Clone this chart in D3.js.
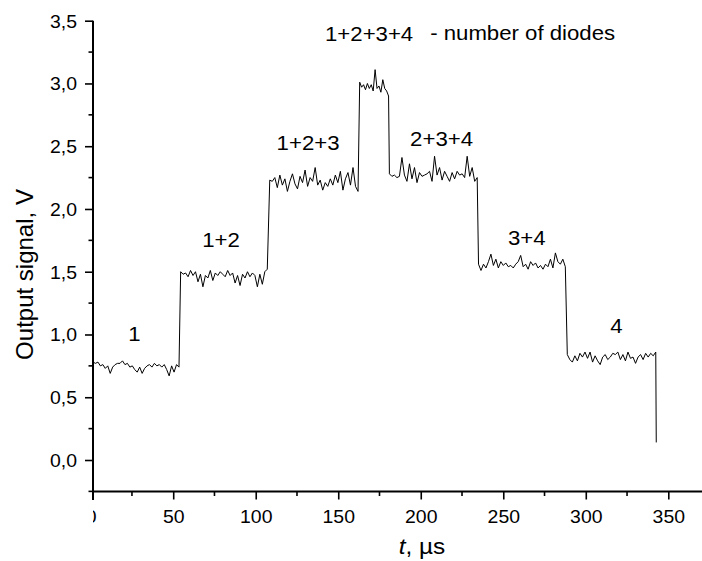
<!DOCTYPE html>
<html>
<head>
<meta charset="utf-8">
<script src="https://cdn.jsdelivr.net/npm/d3@7"></script>
<style>
  html, body { margin: 0; padding: 0; background: #fff; }
  svg { display: block; }
  text { font-family: "Liberation Sans", Arial, sans-serif; fill: #000; }
</style>
</head>
<body>
<svg id="chart" width="702" height="561"></svg>
<script>
// ---------------- DATA ----------------
const xTicks = [0, 50, 100, 150, 200, 250, 300, 350];
const xMinorTicks = [25, 75, 125, 175, 225, 275, 325];
const yTicks = [0, 0.5, 1.0, 1.5, 2.0, 2.5, 3.0, 3.5];
const yMinorTicks = [-0.25, 0.25, 0.75, 1.25, 1.75, 2.25, 2.75, 3.25];

// time spans (µs) of each plateau of the recorded trace
const segStart = [1.4, 54.5, 108.5, 163.0, 181.0, 235.0, 288.8];
const segEnd   = [53.5, 107.0, 162.0, 180.5, 234.2, 287.6, 342.4];

// output signal (V) sampled along each plateau
const seg1 = [0.78,0.77,0.78,0.75,0.76,0.73,0.75,0.69,0.74,0.76,0.77,0.77,0.79,0.76,0.77,0.74,0.75,0.72,0.70,0.74,0.69,0.73,0.75,0.76,0.74,0.77,0.75,0.76,0.74,0.76,0.72,0.67,0.75,0.70,0.76,0.74];
const seg2 = [1.50,1.48,1.49,1.46,1.51,1.47,1.50,1.42,1.48,1.38,1.47,1.45,1.51,1.43,1.49,1.47,1.50,1.48,1.46,1.51,1.47,1.49,1.41,1.47,1.39,1.48,1.45,1.50,1.46,1.49,1.47,1.38,1.48,1.40,1.50,1.52];
const seg3 = [2.23,2.22,2.25,2.17,2.27,2.19,2.24,2.14,2.22,2.28,2.20,2.16,2.26,2.21,2.31,2.18,2.25,2.22,2.33,2.19,2.23,2.15,2.21,2.18,2.24,2.19,2.27,2.21,2.30,2.15,2.24,2.29,2.19,2.33,2.18,2.14];
const seg4 = [3.01,2.97,2.99,2.95,3.00,2.96,2.99,2.94,3.11,2.96,2.98,2.93,3.03,2.96,2.94,2.90];
const seg5 = [2.28,2.26,2.27,2.25,2.26,2.41,2.27,2.22,2.36,2.24,2.33,2.21,2.29,2.26,2.27,2.28,2.30,2.22,2.42,2.27,2.33,2.23,2.30,2.26,2.22,2.29,2.24,2.30,2.27,2.28,2.25,2.42,2.26,2.33,2.22,2.25];
const seg6 = [1.56,1.51,1.56,1.53,1.58,1.64,1.55,1.60,1.53,1.58,1.55,1.57,1.54,1.55,1.53,1.56,1.58,1.63,1.54,1.56,1.52,1.58,1.55,1.57,1.53,1.55,1.52,1.56,1.54,1.60,1.53,1.65,1.58,1.56,1.60,1.54];
const seg7 = [0.84,0.80,0.78,0.83,0.79,0.85,0.82,0.86,0.81,0.86,0.78,0.83,0.79,0.76,0.82,0.84,0.80,0.82,0.85,0.84,0.86,0.80,0.84,0.79,0.86,0.81,0.82,0.77,0.82,0.84,0.80,0.85,0.82,0.85,0.83,0.86];
const tailPoint = {t: 342.7, v: 0.14};

// annotations: label, time (µs), signal (V) position of label
const annLabels = ["1", "1+2", "1+2+3", "1+2+3+4", "- number of diodes", "2+3+4", "3+4", "4"];
const annT      = [26.5, 79.0, 131.7, 168.7, 205.7, 212.6, 264.2, 318.5];
const annV      = [0.950, 1.700, 2.473, 3.335, 3.350, 2.502, 1.710, 1.015];
const annAnchor = ["middle","middle","middle","middle","start","middle","middle","middle"];

// ---------------- CHART ----------------
const svg = d3.select("#chart");
const SX = 1.11; // horizontal glyph stretch seen in the reference

const x = d3.scaleLinear().domain([0, 350]).range([90.7, 668.3]);
const y = d3.scaleLinear().domain([0, 3.5]).range([460, 20.7]);

const segs = [seg1, seg2, seg3, seg4, seg5, seg6, seg7];
const trace = [];
segs.forEach((vals, k) => {
  const n = vals.length;
  const st = (segEnd[k] - segStart[k]) / (n - 1);
  vals.forEach((v, i) => trace.push({t: segStart[k] + i * st, v}));
});
trace.push(tailPoint);

const axisLeftX = 93, axisBottomY = y(-0.25), rightEdge = 702;

// trace
svg.append("path")
  .datum(trace)
  .attr("fill", "none")
  .attr("stroke", "#000")
  .attr("stroke-width", 1)
  .attr("stroke-linejoin", "round")
  .attr("d", d3.line().x(d => x(d.t)).y(d => y(d.v)));

// clip for bottom axis (local coordinates of the axis group)
svg.append("clipPath").attr("id", "xclip")
  .append("rect").attr("x", axisLeftX).attr("y", -2)
  .attr("width", rightEdge - axisLeftX).attr("height", 80);

// X axis major
const gx = svg.append("g")
  .attr("transform", `translate(0,${axisBottomY})`)
  .attr("clip-path", "url(#xclip)");
gx.call(d3.axisBottom(x).tickValues(xTicks).tickSize(8).tickPadding(11)
  .tickFormat(d3.format("d")));
gx.select(".domain").remove();
gx.selectAll(".tick line").attr("stroke", "#000").attr("stroke-width", 1.6);
gx.selectAll(".tick text").attr("font-size", 17.5).attr("fill", "#000")
  .attr("font-family", '"Liberation Sans", Arial, sans-serif')
  .attr("transform", `scale(${SX},1)`);
// X minor
gx.selectAll(".minor").data(xMinorTicks).enter().append("line")
  .attr("x1", d => x(d)).attr("x2", d => x(d)).attr("y1", 0).attr("y2", 4.5)
  .attr("stroke", "#000").attr("stroke-width", 1.6);

// Y axis major
const gy = svg.append("g").attr("transform", `translate(${axisLeftX},0)`);
const fmt = d => d3.format(".1f")(d).replace(".", ",");
gy.call(d3.axisLeft(y).tickValues(yTicks).tickSize(8).tickPadding(0).tickFormat(fmt));
gy.select(".domain").remove();
gy.selectAll(".tick line").attr("stroke", "#000").attr("stroke-width", 1.6);
gy.selectAll(".tick text").attr("font-size", 17.5).attr("fill", "#000")
  .attr("font-family", '"Liberation Sans", Arial, sans-serif')
  .attr("x", -16 / SX).attr("dy", "0.36em")
  .attr("transform", `scale(${SX},1)`);
gy.selectAll(".minor").data(yMinorTicks).enter().append("line")
  .attr("x1", -4.5).attr("x2", 0).attr("y1", d => y(d)).attr("y2", d => y(d))
  .attr("stroke", "#000").attr("stroke-width", 1.6);

// axis lines
svg.append("line").attr("x1", axisLeftX).attr("x2", rightEdge)
  .attr("y1", axisBottomY).attr("y2", axisBottomY)
  .attr("stroke", "#000").attr("stroke-width", 2);
svg.append("line").attr("x1", axisLeftX).attr("x2", axisLeftX)
  .attr("y1", y(3.5)).attr("y2", axisBottomY + 8.5)
  .attr("stroke", "#000").attr("stroke-width", 2);

// axis titles
const xt = svg.append("text")
  .attr("transform", `translate(422,554) scale(${SX},1)`)
  .attr("text-anchor", "middle").attr("font-size", 22);
xt.append("tspan").attr("font-style", "italic").text("t");
xt.append("tspan").text(", µs");

svg.append("text")
  .attr("transform", `translate(32.5,274.5) rotate(-90)`)
  .attr("text-anchor", "middle").attr("font-size", 24)
  .text("Output signal, V");

// annotations
annLabels.forEach((lab, i) => {
  svg.append("text")
    .attr("transform", `translate(${x(annT[i])},${y(annV[i])}) scale(${SX},1)`)
    .attr("text-anchor", annAnchor[i])
    .attr("font-size", 20)
    .text(lab);
});
</script>
</body>
</html>
